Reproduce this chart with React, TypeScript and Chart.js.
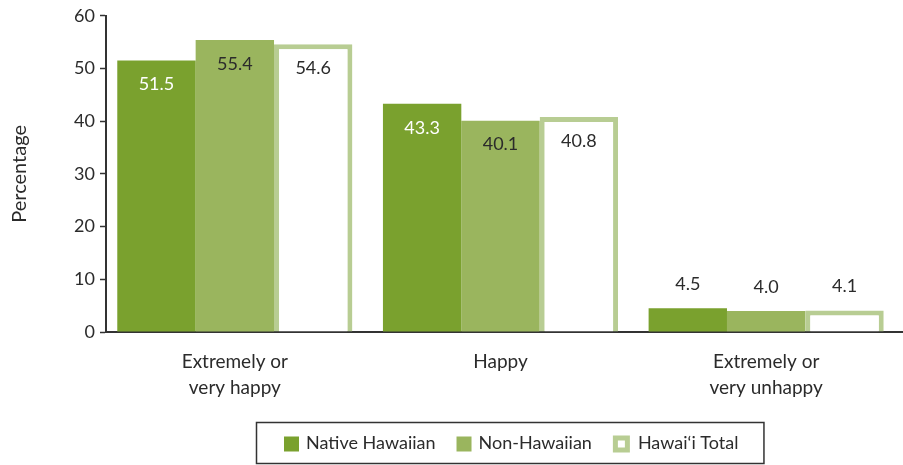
import React, { useEffect, useRef } from "react";
import { Chart, registerables } from "chart.js";

Chart.register(...registerables);

const categories: string[][] = [
  ["Extremely or", "very happy"],
  ["Happy"],
  ["Extremely or", "very unhappy"],
];
const seriesNames = ["Native Hawaiian", "Non-Hawaiian", "Hawai\u2018i Total"];
const nativeHawaiian = [51.5, 43.3, 4.5];
const nonHawaiian = [55.4, 40.1, 4.0];
const hawaiiTotal = [54.6, 40.8, 4.1];
const yMin = 0;
const yMax = 60;
const yStep = 10;
const yTitle = "Percentage";

const DARK = "#7aa12e";
const MID = "#9ab55e";
const LIGHT = "#b8cd93";
const TEXT = "#2b2b2b";
const FONT = "Lato, 'Open Sans', sans-serif";

// shift category centres slightly left of the plot area (as in the source layout)
const shiftCategories = {
  id: "shiftCategories",
  afterLayout(chart: any) {
    const x = chart.scales.x;
    x._startPixel -= 4;
    x._endPixel -= 4;
  },
};

const valueLabels = {
  id: "valueLabels",
  afterDatasetsDraw(chart: any) {
    const ctx = chart.ctx;
    ctx.save();
    ctx.font = `18px ${FONT}`;
    ctx.textAlign = "center";
    ctx.textBaseline = "middle";
    chart.data.datasets.forEach((ds: any, di: number) => {
      const meta = chart.getDatasetMeta(di);
      meta.data.forEach((bar: any, i: number) => {
        const v = ds.data[i];
        const inside = v > 10;
        const y = inside ? bar.y + 24 : bar.y - 24;
        ctx.fillStyle = inside && di === 0 ? "#ffffff" : TEXT;
        ctx.fillText(v.toFixed(1), bar.x, y);
      });
    });
    ctx.restore();
  },
};

const boxLegend = {
  id: "boxLegend",
  afterDraw(chart: any) {
    const ctx = chart.ctx;
    ctx.save();
    ctx.font = `18px ${FONT}`;
    ctx.textBaseline = "middle";
    ctx.textAlign = "left";
    const pad = 28;
    const box = 15;
    const gap = 7;
    const itemGap = 21;
    const widths = chart.data.datasets.map((d: any) => ctx.measureText(d.label).width);
    const total =
      pad * 2 +
      widths.reduce((a: number, w: number) => a + box + gap + w, 0) +
      itemGap * (widths.length - 1);
    const cx = (chart.chartArea.left + chart.chartArea.right) / 2 + 5;
    const left = Math.round(cx - total / 2);
    const top = 422;
    const h = 41;
    ctx.strokeStyle = "#333333";
    ctx.lineWidth = 1.5;
    ctx.strokeRect(left + 0.5, top + 0.5, total, h);
    const cy = top + h / 2 + 1;
    let x = left + pad;
    chart.data.datasets.forEach((d: any, i: number) => {
      if (d.borderWidth) {
        ctx.fillStyle = d.borderColor;
        ctx.fillRect(x, cy - 8, 17, 17);
        ctx.fillStyle = "#ffffff";
        ctx.fillRect(x + 5, cy - 3, 7, 7);
        x += 17 + 8;
      } else {
        ctx.fillStyle = d.backgroundColor;
        ctx.fillRect(x, cy - 7, box, box);
        x += box + gap;
      }
      ctx.fillStyle = TEXT;
      ctx.fillText(d.label, x, cy);
      x += widths[i] + itemGap;
    });
    ctx.restore();
  },
};

export default function App() {
  const ref = useRef<HTMLCanvasElement>(null);
  useEffect(() => {
    document.body.style.margin = "0";
    const chart = new Chart(ref.current as HTMLCanvasElement, {
      type: "bar",
      data: {
        labels: categories,
        datasets: [
          { label: seriesNames[0], data: nativeHawaiian, backgroundColor: DARK, borderWidth: 0 },
          { label: seriesNames[1], data: nonHawaiian, backgroundColor: MID, borderWidth: 0 },
          {
            label: seriesNames[2],
            data: hawaiiTotal,
            backgroundColor: "#ffffff",
            borderColor: LIGHT,
            borderWidth: 5,
            borderSkipped: "bottom",
          },
        ],
      },
      options: {
        responsive: false,
        animation: false,
        devicePixelRatio: 1,
        layout: { padding: { top: 14, left: 0, right: 0, bottom: 0 } },
        datasets: { bar: { categoryPercentage: 0.885, barPercentage: 1 } },
        plugins: { legend: { display: false }, tooltip: { enabled: false } },
        scales: {
          x: {
            grid: { display: false, drawTicks: false },
            border: { display: true, color: "#333333", width: 2 },
            ticks: {
              color: TEXT,
              padding: 17,
              font: { family: FONT, size: 19, lineHeight: 1.37 },
            },
            afterFit(scale: any) {
              scale.height = 133;
            },
          },
          y: {
            min: yMin,
            max: yMax,
            ticks: {
              stepSize: yStep,
              color: TEXT,
              padding: 5,
              font: { family: FONT, size: 18 },
            },
            grid: {
              drawOnChartArea: false,
              drawTicks: true,
              tickLength: 6,
              tickColor: "#333333",
              tickWidth: 1.5,
            },
            border: { display: true, color: "#333333", width: 2 },
            title: {
              display: true,
              text: yTitle,
              color: TEXT,
              padding: { top: 8, bottom: 0 },
              font: { family: FONT, size: 20 },
            },
            afterFit(scale: any) {
              scale.width = 106;
            },
          },
        },
      },
      plugins: [shiftCategories, valueLabels, boxLegend],
    });
    return () => chart.destroy();
  }, []);
  return (
    <div style={{ position: "absolute", left: 0, top: 0, width: 903, height: 465, background: "#ffffff" }}>
      <canvas ref={ref} width={903} height={465} />
    </div>
  );
}
